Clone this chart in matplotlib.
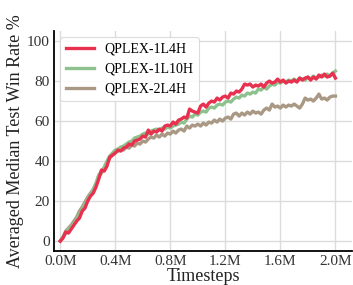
import numpy as np
import matplotlib
matplotlib.use("Agg")
import matplotlib.pyplot as plt
from matplotlib.ticker import FuncFormatter

plt.rcParams['font.family'] = ['Liberation Serif', 'DejaVu Serif']

steps_m = [round(0.02 * i, 2) for i in range(101)]

qplex_1l4h = [0, 1.5, 4.5, 4, 6, 8, 10, 11.5, 15, 16.5, 20, 22.5, 24, 27, 31, 35.5, 35, 37.5, 42, 43,
              44, 45.5, 45, 46.5, 47, 48.5, 48, 50, 50.5, 51, 52.5, 52, 55.5, 53.5, 55, 54.5, 56, 55, 57.5, 58,
              57.5, 59.5, 58.5, 60.5, 61, 62, 61.5, 66, 65, 64.5, 64, 67.5, 68.5, 67, 69, 70, 69.5, 71.5, 70.5, 72,
              72.5, 71.5, 74, 73.5, 75, 74.5, 76, 78.5, 78, 78.5, 77, 78, 77.5, 78.5, 77, 79, 80, 79, 79.5, 81,
              79.5, 80.5, 79, 80, 79.5, 80.5, 79.5, 81.5, 80.5, 81.5, 82, 80.5, 82, 81, 83, 82, 83.5, 82, 82.5, 84,
              81.5]
qplex_1l10h = [0, 2, 4, 6, 7, 9, 11, 13.5, 16, 18.5, 21, 23.5, 26, 29, 33, 35, 37, 40, 42.5, 44,
               45.5, 46, 47, 47.5, 48.5, 49.5, 50, 51.5, 52, 52.5, 53.5, 54, 53.5, 55, 55.5, 56, 55.5, 56.5, 56, 57,
               56.5, 57.5, 58, 58.5, 59.5, 59, 61, 62.5, 62, 63.5, 63, 64.5, 65, 64.5, 66.5, 67, 66.5, 68, 68.5, 68,
               69.5, 70, 69.5, 71, 72, 71.5, 73, 72.5, 74, 73.5, 74.5, 74, 76, 75.5, 77, 76, 77.5, 78.5, 78, 79.5,
               79, 80, 79.5, 80.5, 80, 81, 80, 81.5, 81, 80.5, 82, 81, 82.5, 81.5, 82, 83, 82.5, 83.5, 82.5, 84,
               85]
qplex_2l4h = [0, 2, 5, 6.5, 8, 10, 12, 15, 17, 19.5, 22, 24, 25.5, 28.5, 32.5, 34, 36.5, 39, 41.5, 43,
              44.5, 45, 46, 45.5, 47, 46.5, 48, 47.5, 49, 48.5, 50, 49.5, 51, 52, 51.5, 53, 52, 53.5, 52.5, 54,
              53.5, 55, 54, 55.5, 56, 55, 57.5, 56.5, 58, 57.5, 58.5, 57.5, 59, 58, 59.5, 59, 60.5, 59.5, 61, 60,
              61.5, 62, 61, 63.5, 64, 62.5, 64, 63, 64.5, 63.5, 65, 64, 64.5, 63.5, 65.5, 66.5, 65.5, 68.5, 67, 67.5,
              66.5, 68, 67, 68, 67.5, 68.5, 67.5, 66.5, 68.5, 71.5, 70.5, 71, 70, 71.5, 73.5, 71, 71.5, 70.5, 72, 72.5,
              72.5]

labels = ["QPLEX-1L4H", "QPLEX-1L10H", "QPLEX-2L4H"]
colors = ["#e8304f", "#8dc18d", "#a99884"]
x_ticks_m = [0.0, 0.4, 0.8, 1.2, 1.6, 2.0]
y_ticks = [0, 20, 40, 60, 80, 100]

fig = plt.figure(figsize=(3.53, 2.85), dpi=100)
ax = fig.add_axes([0.153, 0.119, 0.844, 0.772])

x = np.array(steps_m) * 1e6
series = [qplex_1l4h, qplex_1l10h, qplex_2l4h]
zs = [5, 4, 3]
lines = []
for s, lab, c, z in zip(series, labels, colors, zs):
    ln, = ax.plot(x, s, color=c, lw=2.4, label=lab, zorder=z, solid_joinstyle='round')
    lines.append(ln)

ax.set_xlim(-0.045e6, 2.12e6)
ax.set_ylim(-5, 105)
ax.set_xticks([t * 1e6 for t in x_ticks_m])
ax.xaxis.set_major_formatter(FuncFormatter(lambda v, p: f"{v/1e6:.1f}M"))
ax.set_yticks(y_ticks)
ax.grid(True, color="#dcdcdc", lw=1.0, zorder=0)
ax.set_axisbelow(True)
for sp in ["top", "right"]:
    ax.spines[sp].set_visible(False)
for sp in ["left", "bottom"]:
    ax.spines[sp].set_color("black")
    ax.spines[sp].set_linewidth(1.3)
ax.tick_params(axis="both", length=0, labelsize=11, colors="#333333", pad=3)
ax.set_xlabel("Timesteps", fontsize=13, color="#222222", labelpad=0)
ax.set_ylabel("Averaged Median Test Win Rate %", fontsize=13, color="#222222", labelpad=2)

leg = ax.legend(handles=lines, loc="upper left", fontsize=10, frameon=True,
                fancybox=True, framealpha=0.9, edgecolor="#d8d8d8",
                handlelength=2.0, borderaxespad=0.45)
leg.get_frame().set_linewidth(0.8)

fig.savefig("out.png", dpi=100)
